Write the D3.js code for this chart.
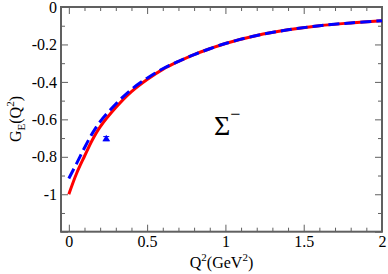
<!DOCTYPE html>
<html>
<head>
<meta charset="utf-8">
<script src="https://cdn.jsdelivr.net/npm/d3@7"></script>
<style>
  html, body { margin: 0; padding: 0; background: #fff; }
  svg { display: block; }
  text { font-family: "Liberation Serif", "Times New Roman", serif; fill: #000; }
</style>
</head>
<body>
<svg id="chart" width="388" height="274"></svg>
<script>
// ---- data ----
const q2Red  = [0, 0.05, 0.1, 0.15, 0.2, 0.3, 0.4, 0.5, 0.6, 0.7, 0.8, 0.9, 1.0, 1.2, 1.4, 1.6, 1.8, 2.0];
const geRed  = [-1.0, -0.888, -0.797, -0.71, -0.64, -0.537, -0.452, -0.387, -0.333, -0.291, -0.254, -0.223, -0.195, -0.152, -0.122, -0.1, -0.085, -0.073];
const q2Blue = [0, 0.05, 0.1, 0.15, 0.2, 0.3, 0.4, 0.5, 0.6, 0.7, 0.8, 0.9, 1.0, 1.2, 1.4, 1.6, 1.8, 2.0];
const geBlue = [-0.916, -0.835, -0.752, -0.675, -0.612, -0.518, -0.44, -0.38, -0.33, -0.29, -0.254, -0.223, -0.195, -0.152, -0.122, -0.1, -0.085, -0.073];
const dataQ2 = [0.239];
const dataGE = [-0.703];
const dataErr = [0.011];
const xTickValues = [0, 0.5, 1, 1.5, 2];
const xTickLabels = ["0", "0.5", "1", "1.5", "2"];
const xMinorValues = [0.1, 0.2, 0.3, 0.4, 0.6, 0.7, 0.8, 0.9, 1.1, 1.2, 1.3, 1.4, 1.6, 1.7, 1.8, 1.9];
const yTickValues = [0, -0.2, -0.4, -0.6, -0.8, -1.0, -1.2];
const yTickLabels = ["0", "-0.2", "-0.4", "-0.6", "-0.8", "-1", ""];
const yMinorValues = [-0.1, -0.3, -0.5, -0.7, -0.9, -1.1];

// ---- layout ----
const L = 61, R = 382, T = 7, B = 231.7;
const svg = d3.select("#chart");
const x = d3.scaleLinear().domain([-0.05, 2]).range([L, R]);
const y = d3.scaleLinear().domain([0, -1.2]).range([T, B]);
const axisColor = "#606060";

function styleAxis(g) {
  g.select(".domain").remove();
  g.selectAll(".tick line").attr("stroke", axisColor).attr("stroke-width", 1);
  g.selectAll(".tick text").attr("font-size", "16px").attr("fill", "#000")
    .attr("font-family", "Liberation Serif, serif");
}

// major/minor ticks
svg.append("g").attr("transform", `translate(0,${B})`)
  .call(d3.axisBottom(x).tickValues(xTickValues).tickSizeInner(-7).tickSizeOuter(0).tickPadding(3.6)
    .tickFormat((d, i) => xTickLabels[i]))
  .call(styleAxis);
svg.append("g").attr("transform", `translate(0,${B})`)
  .call(d3.axisBottom(x).tickValues(xMinorValues).tickSizeInner(-4).tickSizeOuter(0).tickFormat(""))
  .call(styleAxis);
svg.append("g").attr("transform", `translate(0,${T})`)
  .call(d3.axisTop(x).tickValues(xTickValues).tickSizeInner(-7).tickSizeOuter(0).tickFormat(""))
  .call(styleAxis);
svg.append("g").attr("transform", `translate(0,${T})`)
  .call(d3.axisTop(x).tickValues(xMinorValues).tickSizeInner(-4).tickSizeOuter(0).tickFormat(""))
  .call(styleAxis);

svg.append("g").attr("transform", `translate(${L},0)`)
  .call(d3.axisLeft(y).tickValues(yTickValues).tickSizeInner(-7).tickSizeOuter(0).tickPadding(4)
    .tickFormat((d, i) => yTickLabels[i]))
  .call(styleAxis);
svg.append("g").attr("transform", `translate(${L},0)`)
  .call(d3.axisLeft(y).tickValues(yMinorValues).tickSizeInner(-4).tickSizeOuter(0).tickFormat(""))
  .call(styleAxis);
svg.append("g").attr("transform", `translate(${R},0)`)
  .call(d3.axisRight(y).tickValues(yTickValues).tickSizeInner(-7).tickSizeOuter(0).tickFormat(""))
  .call(styleAxis);
svg.append("g").attr("transform", `translate(${R},0)`)
  .call(d3.axisRight(y).tickValues(yMinorValues).tickSizeInner(-4).tickSizeOuter(0).tickFormat(""))
  .call(styleAxis);

// frame
svg.append("rect").attr("x", L).attr("y", T).attr("width", R - L).attr("height", B - T)
  .attr("fill", "none").attr("stroke", axisColor).attr("stroke-width", 2);

// curves
const line = d3.line().x(d => x(d[0])).y(d => y(d[1])).curve(d3.curveCatmullRom.alpha(0.5));
svg.append("path").datum(q2Red.map((q, i) => [q, geRed[i]]))
  .attr("d", line).attr("fill", "none").attr("stroke", "#ff0000").attr("stroke-width", 3);
svg.append("path").datum(q2Blue.map((q, i) => [q, geBlue[i]]))
  .attr("d", line).attr("fill", "none").attr("stroke", "#0000ff").attr("stroke-width", 3)
  .attr("stroke-dasharray", "11,5");

// data point with error bar
const pts = dataQ2.map((q, i) => ({ q, g: dataGE[i], e: dataErr[i] }));
const pg = svg.append("g");
pts.forEach(p => {
  const cx = x(p.q), yt = y(p.g + p.e), yb = y(p.g - p.e);
  pg.append("line").attr("x1", cx).attr("x2", cx).attr("y1", yt).attr("y2", yb)
    .attr("stroke", "#0000ff").attr("stroke-width", 1);
  [yt, yb].forEach(yy => pg.append("line").attr("x1", cx - 3).attr("x2", cx + 3)
    .attr("y1", yy).attr("y2", yy).attr("stroke", "#0000ff").attr("stroke-width", 1));
  pg.append("path").attr("d", d3.symbol(d3.symbolTriangle, 26)())
    .attr("transform", `translate(${cx},${y(p.g) + 0.5})`).attr("fill", "#0000ff");
});

// Sigma label
const sig = svg.append("text").attr("x", 214).attr("y", 134.5).attr("font-size", "28px");
sig.append("tspan").text("Σ");
sig.append("tspan").attr("font-size", "18px").attr("dy", "-15").text("−");

// x-axis title
const xt = svg.append("text").attr("x", 221.5).attr("y", 268).attr("text-anchor", "middle")
  .attr("font-size", "16px");
xt.append("tspan").text("Q");
xt.append("tspan").attr("font-size", "11px").attr("dy", "-7").text("2");
xt.append("tspan").attr("dy", "7").text("(GeV");
xt.append("tspan").attr("font-size", "11px").attr("dy", "-7").text("2");
xt.append("tspan").attr("dy", "7").text(")");

// y-axis title
const yt = svg.append("text").attr("transform", "translate(21,119) rotate(-90)")
  .attr("text-anchor", "middle").attr("font-size", "16px");
yt.append("tspan").text("G");
yt.append("tspan").attr("font-size", "11px").attr("dy", "4").text("E");
yt.append("tspan").attr("dy", "-4").text("(Q");
yt.append("tspan").attr("font-size", "11px").attr("dy", "-7").text("2");
yt.append("tspan").attr("dy", "7").text(")");
</script>
</body>
</html>
